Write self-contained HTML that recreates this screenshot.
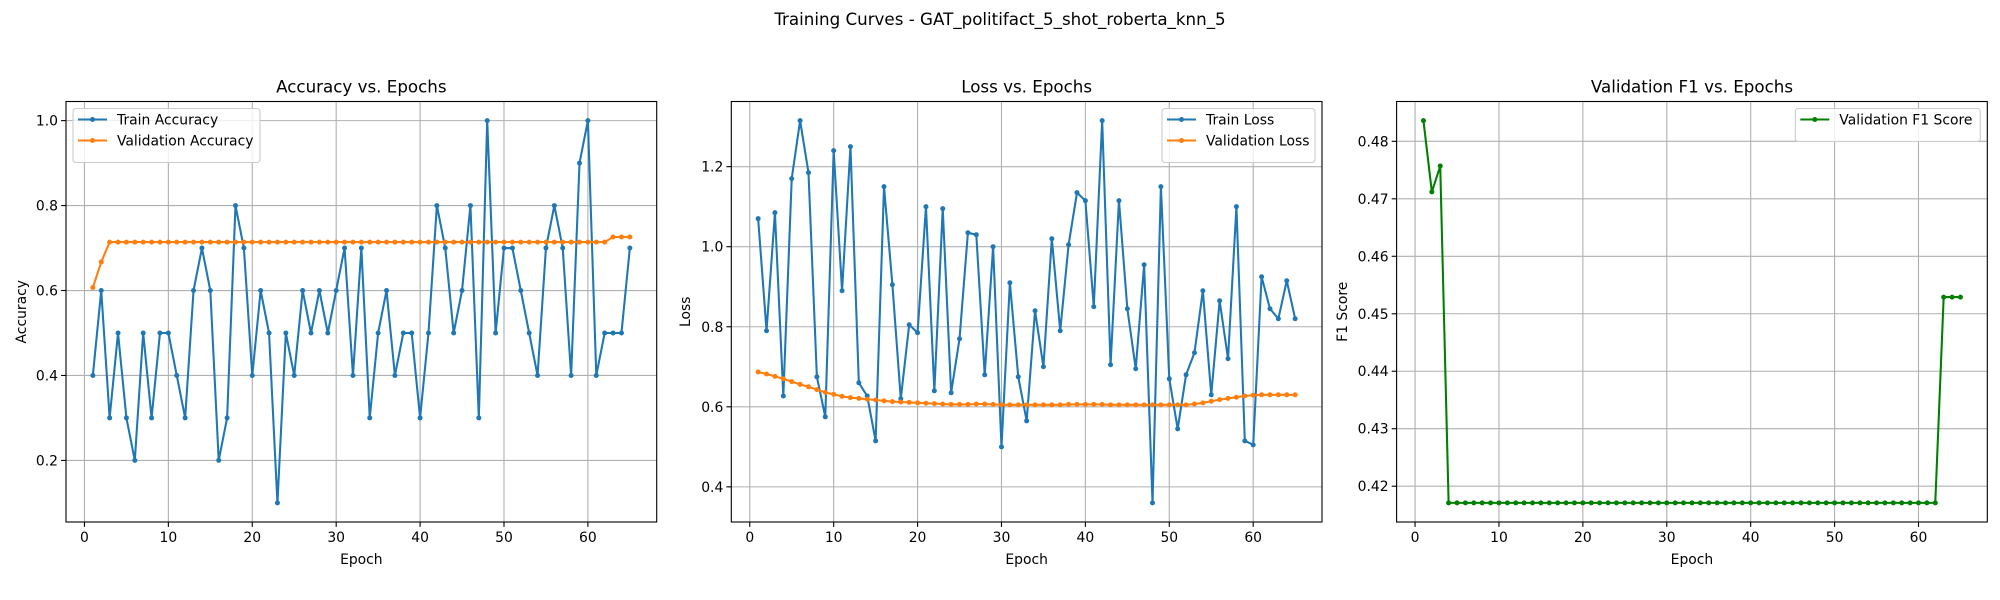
<!DOCTYPE html>
<html><head><meta charset="utf-8">
<style>
html,body{margin:0;padding:0;background:#fff;}
svg{display:block;font-family:"DejaVu Sans","Liberation Sans",sans-serif;}
</style></head>
<body>
<svg id="fig" width="2000" height="600" viewBox="0 0 2000 600" xmlns="http://www.w3.org/2000/svg">
<rect width="2000" height="600" fill="#fff"/>
<text x="1000" y="25" text-anchor="middle" font-size="16.7" fill="#000">Training Curves - GAT_politifact_5_shot_roberta_knn_5</text>
</svg>
<script>
const epochs = Array.from({length:65},(_,i)=>i+1);
const trainAcc = [0.4,0.6,0.3,0.5,0.3,0.2,0.5,0.3,0.5,0.5,0.4,0.3,0.6,0.7,0.6,0.2,0.3,0.8,0.7,0.4,0.6,0.5,0.1,0.5,0.4,0.6,0.5,0.6,0.5,0.6,0.7,0.4,0.7,0.3,0.5,0.6,0.4,0.5,0.5,0.3,0.5,0.8,0.7,0.5,0.6,0.8,0.3,1.0,0.5,0.7,0.7,0.6,0.5,0.4,0.7,0.8,0.7,0.4,0.9,1.0,0.4,0.5,0.5,0.5,0.7];
const valAcc = [0.607,0.667,0.714,0.714,0.714,0.714,0.714,0.714,0.714,0.714,0.714,0.714,0.714,0.714,0.714,0.714,0.714,0.714,0.714,0.714,0.714,0.714,0.714,0.714,0.714,0.714,0.714,0.714,0.714,0.714,0.714,0.714,0.714,0.714,0.714,0.714,0.714,0.714,0.714,0.714,0.714,0.714,0.714,0.714,0.714,0.714,0.714,0.714,0.714,0.714,0.714,0.714,0.714,0.714,0.714,0.714,0.714,0.714,0.714,0.714,0.714,0.714,0.726,0.726,0.726];
const trainLoss = [1.07,0.79,1.085,0.627,1.17,1.315,1.185,0.675,0.575,1.24,0.89,1.25,0.66,0.627,0.515,1.15,0.905,0.62,0.805,0.785,1.1,0.64,1.095,0.635,0.77,1.035,1.03,0.68,1.0,0.50,0.91,0.675,0.565,0.84,0.70,1.02,0.79,1.005,1.135,1.115,0.85,1.315,0.705,1.115,0.845,0.695,0.955,0.36,1.15,0.67,0.545,0.68,0.735,0.89,0.63,0.865,0.72,1.10,0.515,0.505,0.925,0.845,0.82,0.915,0.82];
const valLoss = [0.687,0.682,0.676,0.670,0.663,0.656,0.650,0.643,0.636,0.631,0.626,0.623,0.621,0.619,0.617,0.615,0.613,0.612,0.611,0.610,0.609,0.608,0.607,0.606,0.606,0.606,0.607,0.607,0.606,0.605,0.605,0.605,0.605,0.605,0.605,0.605,0.605,0.606,0.606,0.606,0.606,0.606,0.605,0.605,0.605,0.605,0.605,0.605,0.605,0.605,0.605,0.605,0.607,0.610,0.614,0.618,0.621,0.624,0.627,0.629,0.630,0.630,0.630,0.630,0.630];
const valF1 = [0.4836,0.4712,0.4757,0.4171,0.4171,0.4171,0.4171,0.4171,0.4171,0.4171,0.4171,0.4171,0.4171,0.4171,0.4171,0.4171,0.4171,0.4171,0.4171,0.4171,0.4171,0.4171,0.4171,0.4171,0.4171,0.4171,0.4171,0.4171,0.4171,0.4171,0.4171,0.4171,0.4171,0.4171,0.4171,0.4171,0.4171,0.4171,0.4171,0.4171,0.4171,0.4171,0.4171,0.4171,0.4171,0.4171,0.4171,0.4171,0.4171,0.4171,0.4171,0.4171,0.4171,0.4171,0.4171,0.4171,0.4171,0.4171,0.4171,0.4171,0.4171,0.4171,0.4529,0.4529,0.4529];
const xTicks = [0,10,20,30,40,50,60];
const accTicks = [0.2,0.4,0.6,0.8,1.0];
const lossTicks = [0.4,0.6,0.8,1.0,1.2];
const f1Ticks = [0.42,0.43,0.44,0.45,0.46,0.47,0.48];

const NS="http://www.w3.org/2000/svg";
const svg=document.getElementById('fig');
function mk(tag,attrs,parent){const e=document.createElementNS(NS,tag);for(const k in attrs)e.setAttribute(k,attrs[k]);(parent||svg).appendChild(e);return e;}

function panel(cfg){
  const L=cfg.left,T=101.5,W=590.7,H=420.5,B=T+H;
  const g=mk('g',{});
  
  
  const xmin=1-0.05*64,xmax=65+0.05*64;
  let all=[];cfg.series.forEach(s=>all=all.concat(s.values));
  const dmin=Math.min(...all),dmax=Math.max(...all),r=dmax-dmin;
  const ymin=dmin-0.05*r,ymax=dmax+0.05*r;
  const X=v=>L+(v-xmin)/(xmax-xmin)*W;
  const Y=v=>B-(v-ymin)/(ymax-ymin)*H;
  // grid
  xTicks.forEach(t=>{const x=X(t);
    const gl=mk('line',{x1:x,x2:x,y1:T,y2:B,stroke:'#b0b0b0','stroke-width':1.1},g);
    
    mk('line',{x1:x,x2:x,y1:B,y2:B+4.9,stroke:'#000','stroke-width':1.1},g);
    const tx=mk('text',{x:x,y:B+20,'text-anchor':'middle','font-size':13.9,fill:'#000'},g);
    tx.textContent=t;
    
  });
  cfg.ticks.forEach(t=>{const y=Y(t);
    const gl=mk('line',{x1:L,x2:L+W,y1:y,y2:y,stroke:'#b0b0b0','stroke-width':1.1},g);
    
    mk('line',{x1:L-4.9,x2:L,y1:y,y2:y,stroke:'#000','stroke-width':1.1},g);
    const tx=mk('text',{x:L-8,y:y+5,'text-anchor':'end','font-size':13.9,fill:'#000'},g);
    tx.textContent=t.toFixed(cfg.dec);
    
  });
  // series
  cfg.series.forEach(s=>{
    const pts=s.values.map((v,i)=>X(epochs[i]).toFixed(2)+','+Y(v).toFixed(2)).join(' ');
    const pl=mk('polyline',{points:pts,fill:'none',stroke:s.color,'stroke-width':2.08,'stroke-linejoin':'round'},g);
    
    s.values.forEach((v,i)=>{
      const c=mk('circle',{cx:X(epochs[i]),cy:Y(v),r:2.5,fill:s.color},g);
      
    });
  });
  const fr=mk('rect',{x:L,y:T,width:W,height:H,fill:'none',stroke:'#000','stroke-width':1.1},g);
  
  const ti=mk('text',{x:L+W/2,y:T-9,'text-anchor':'middle','font-size':16.7,fill:'#000'},g);
  ti.textContent=cfg.title;
  const xl=mk('text',{x:L+W/2,y:564,'text-anchor':'middle','font-size':13.9,fill:'#000'},g);
  xl.textContent='Epoch';
  const yl=mk('text',{x:0,y:0,'text-anchor':'middle','font-size':13.9,fill:'#000',transform:`translate(${cfg.ylx},${T+H/2}) rotate(-90)`},g);
  yl.textContent=cfg.ylabel;
  // legend
  const lg=mk('g',{},g);
  
  const lw=cfg.legW,lh=12+cfg.series.length*21;
  const lx=cfg.legRight?L+W-7-lw:L+7, ly=T+7;
  mk('rect',{x:lx,y:ly,width:lw,height:lh,rx:3,fill:'#fff','fill-opacity':0.8,stroke:'#cccccc','stroke-width':1.1},lg);
  cfg.series.forEach((s,i)=>{
    const yy=ly+11+i*21;
    const ent=mk('g',{},lg);
    
    mk('line',{x1:lx+5,x2:lx+34,y1:yy,y2:yy,stroke:s.color,'stroke-width':2.08},ent);
    mk('circle',{cx:lx+19.5,cy:yy,r:2.5,fill:s.color},ent);
    const t=mk('text',{x:lx+44,y:yy+5,'font-size':13.9,fill:'#000'},ent);t.textContent=s.label;
  });
}
panel({name:'accuracy-panel',left:66,title:'Accuracy vs. Epochs',ylabel:'Accuracy',ylx:26,ticks:accTicks,dec:1,legRight:false,legW:187,
  series:[{id:'train-accuracy',label:'Train Accuracy',color:'#1f77b4',values:trainAcc},{id:'validation-accuracy',label:'Validation Accuracy',color:'#ff7f0e',values:valAcc}]});
panel({name:'loss-panel',left:731.3,title:'Loss vs. Epochs',ylabel:'Loss',ylx:690,ticks:lossTicks,dec:1,legRight:true,legW:153,
  series:[{id:'train-loss',label:'Train Loss',color:'#1f77b4',values:trainLoss},{id:'validation-loss',label:'Validation Loss',color:'#ff7f0e',values:valLoss}]});
panel({name:'f1-panel',left:1396.6,title:'Validation F1 vs. Epochs',ylabel:'F1 Score',ylx:1347,ticks:f1Ticks,dec:2,legRight:true,legW:185,
  series:[{id:'validation-f1',label:'Validation F1 Score',color:'#008000',values:valF1}]});
</script>
</body></html>
